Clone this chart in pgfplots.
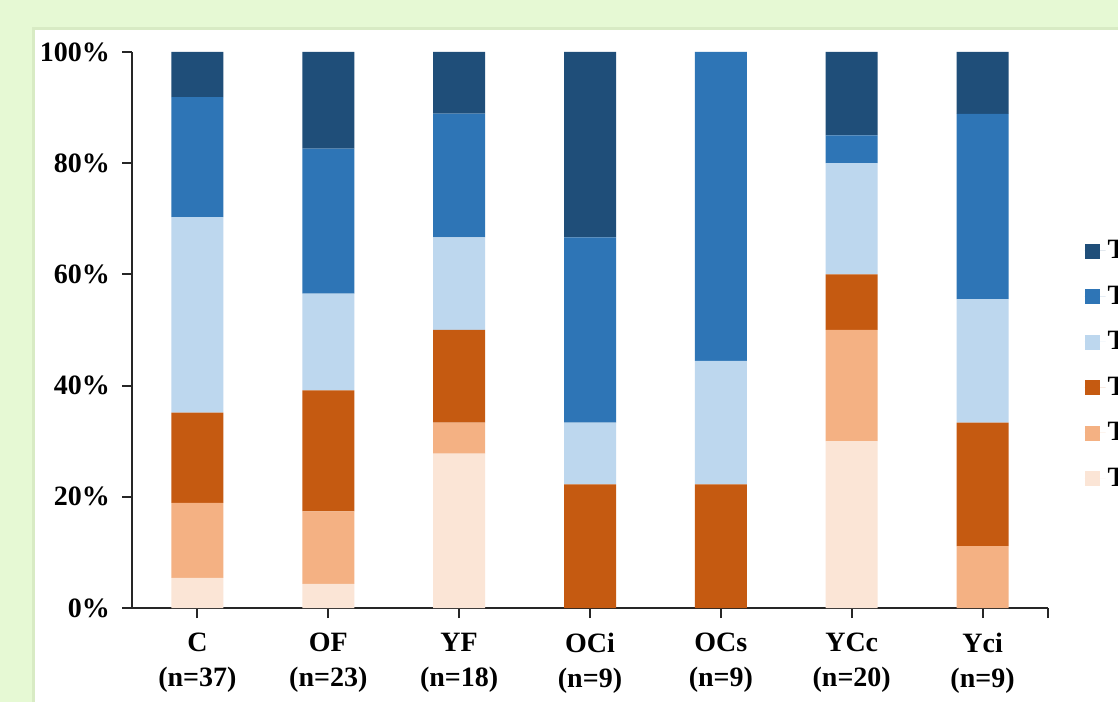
\documentclass[border=0pt]{standalone}
\usepackage{pgfplots}
\pgfplotsset{compat=1.18}
\usepackage{fontspec}
\setmainfont{Liberation Serif}

\definecolor{bggreen}{HTML}{E6F9D4}
\definecolor{bgedge}{HTML}{D8EBC4}
\definecolor{tdark}{HTML}{1F4E79}
\definecolor{tmid}{HTML}{2E75B6}
\definecolor{tlight}{HTML}{BDD7EE}
\definecolor{odark}{HTML}{C55A11}
\definecolor{olight}{HTML}{F4B183}
\definecolor{opale}{HTML}{FBE5D6}

% share of each group (percent), bottom segment first
\pgfplotstableread{
x  s1     s2     s3     s4     s5     s6
0  5.41   13.51  16.22  35.14  21.62  8.11
1  4.35   13.04  21.74  17.39  26.09  17.39
2  27.78  5.56   16.67  16.67  22.22  11.11
3  0      0      22.22  11.11  33.33  33.34
4  0      0      22.22  22.22  55.56  0
5  30     20     10     20     5      15
6  0      11.11  22.22  22.22  33.33  11.12
}\shares

\begin{document}
\begin{tikzpicture}
\useasboundingbox (0,0) rectangle (559pt,351pt);
\clip (0,0) rectangle (559pt,351pt);
\fill[bggreen] (0,0) rectangle (559pt,351pt);
\fill[bgedge] (16pt,0) rectangle (559pt,337.5pt);
\fill[white] (17.5pt,0) rectangle (559pt,336pt);
\begin{axis}[
  scale only axis,
  width=458pt, height=278pt,
  at={(66pt,47pt)}, anchor=south west,
  ybar stacked, bar width=26pt,
  xmin=-0.5, xmax=6.5, ymin=0, ymax=100,
  axis x line*=bottom, axis y line*=left,
  axis line style={line width=1pt, black!85},
  tick style={line width=1pt, black!85},
  tick align=outside, major tick length=5pt,
  xtick={0,...,6},
  extra x ticks={6.5}, extra x tick labels={},
  xticklabels={{C\\(n=37)},{OF\\(n=23)},{YF\\(n=18)},{OCi\\(n=9)},{OCs\\(n=9)},{YCc\\(n=20)},{Yci\\(n=9)}},
  xticklabel style={align=center, yshift=-4pt},
  yticklabel style={xshift=-2.5pt},
  ytick={0,20,40,60,80,100},
  yticklabels={0\%,20\%,40\%,60\%,80\%,100\%},
  ticklabel style={font=\fontsize{14}{17.5}\selectfont\bfseries},
  legend style={at={(1.033,0.673)}, anchor=north west, draw=none, fill=none,
    font=\fontsize{14}{17.5}\selectfont\bfseries,
    row sep=10pt, nodes={inner sep=1pt}},
  legend cell align=left,
  reverse legend,
  legend image code/.code={\fill[#1] (0pt,-4pt) rectangle (7.5pt,3.5pt);
    \path (0pt,0pt) -- (10.5pt,0pt);},
]
\addplot[fill=opale, draw=none] table[x=x, y=s1] {\shares};
\addplot[fill=olight, draw=none] table[x=x, y=s2] {\shares};
\addplot[fill=odark, draw=none] table[x=x, y=s3] {\shares};
\addplot[fill=tlight, draw=none] table[x=x, y=s4] {\shares};
\addplot[fill=tmid, draw=none] table[x=x, y=s5] {\shares};
\addplot[fill=tdark, draw=none] table[x=x, y=s6] {\shares};
\legend{T1,T2,T3,T4,T5,T6}
\end{axis}
\end{tikzpicture}
\end{document}
